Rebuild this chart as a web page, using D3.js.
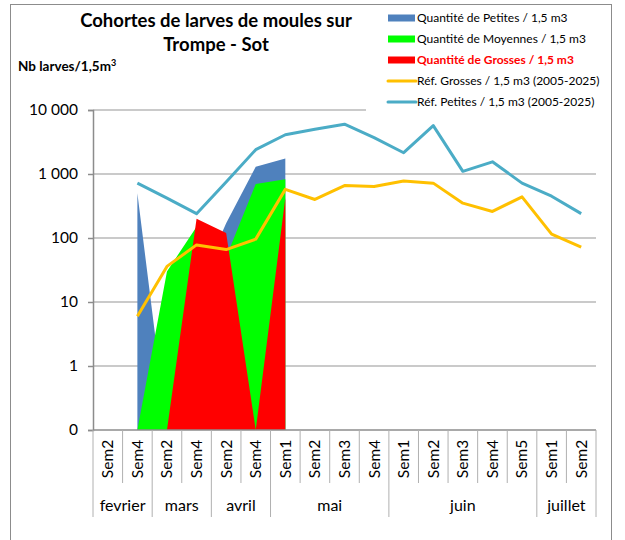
<!DOCTYPE html>
<html>
<head>
<meta charset="utf-8">
<script src="https://cdn.jsdelivr.net/npm/d3@7"></script>
<style>
body{margin:0;background:#fff;}
text{font-family:Lato,"Open Sans",sans-serif;}
</style>
</head>
<body>
<script>
var W=625,H=540;
var semLabels=["Sem2","Sem4","Sem2","Sem4","Sem2","Sem4","Sem1","Sem2","Sem3","Sem4","Sem1","Sem2","Sem3","Sem4","Sem5","Sem1","Sem2"];
var months=["fevrier","mars","avril","mai","juin","juillet"];
var monthSpans=[2,2,2,4,5,2];
var yTicks=[0.1,1,10,100,1000,10000];
var yTickLabels=["0","1","10","100","1 000","10 000"];

// quantites observees (0 = rien, null = pas de prelevement)
var petites =[null,500,0,15,170,1300,1750,null,null,null,null,null,null,null,null,null,null];
var moyennes=[null,0,30,150,50,700,830,null,null,null,null,null,null,null,null,null,null];
var grosses =[null,0,0,200,120,0,420,null,null,null,null,null,null,null,null,null,null];
// references 2005-2025
var refGrosses=[null,6,36,78,66,96,575,400,660,640,780,720,350,260,440,115,72];
var refPetites=[null,720,420,240,750,2400,4100,5000,6000,3700,2150,5700,1100,1550,720,450,240];

var svg=d3.select('body').append('svg').attr('width',W).attr('height',H);

var x=d3.scaleBand().domain(d3.range(semLabels.length)).range([93,596]).padding(0);
var bw=x.bandwidth();
var cx=function(i){return x(i)+bw/2;};
var y=d3.scaleLog().domain([0.1,10000]).range([430,110]);
var yv=function(v){return y(v<=0?0.1:v);};

// cadre
svg.append('rect').attr('x',10.5).attr('y',4.5).attr('width',601).attr('height',600)
  .attr('fill','none').attr('stroke','#8c8c8c').attr('stroke-width',1);

// grille
svg.selectAll('line.grid').data(yTicks.slice(1)).enter().append('line')
  .attr('class','grid')
  .attr('x1',93).attr('x2',596)
  .attr('y1',function(d){return y(d);}).attr('y2',function(d){return y(d);})
  .attr('stroke','#b9b9b9').attr('stroke-width',1.5);

// fond blanc de la legende
svg.append('rect').attr('x',366).attr('y',6).attr('width',240).attr('height',106).attr('fill','#fff');

// aires
var area=d3.area()
  .defined(function(d){return d!=null;})
  .x(function(d,i){return cx(i);})
  .y0(y(0.1))
  .y1(function(d){return yv(d);});
[[petites,'#4f81bd'],[moyennes,'#00ff00'],[grosses,'#ff0000']].forEach(function(s){
  svg.append('path').datum(s[0]).attr('d',area).attr('fill',s[1]);
});

// courbes de reference
var line=d3.line()
  .defined(function(d){return d!=null;})
  .x(function(d,i){return cx(i);})
  .y(function(d){return yv(d);});
[[refGrosses,'#ffc000'],[refPetites,'#4bacc6']].forEach(function(s){
  svg.append('path').datum(s[0]).attr('d',line).attr('fill','none')
    .attr('stroke',s[1]).attr('stroke-width',3).attr('stroke-linejoin','round');
});

// axe Y
var yAxis=d3.axisLeft(y).tickValues(yTicks)
  .tickFormat(function(d,i){return yTickLabels[i];})
  .tickSize(5).tickPadding(10);
var gy=svg.append('g').attr('transform','translate(93,0)').call(yAxis);
gy.select('.domain').attr('stroke','#8c8c8c').attr('stroke-width',1.5);
gy.selectAll('.tick line').attr('stroke','#8c8c8c').attr('stroke-width',1.5);
gy.selectAll('.tick text').style('font-size','15.5px').style('font-family','Lato').attr('fill','#000');

// axe X : semaines
var xAxis=d3.axisBottom(x).tickFormat(function(d){return semLabels[d];}).tickSize(0);
var gx=svg.append('g').attr('transform','translate(0,430)').call(xAxis);
gx.select('.domain').remove();
gx.selectAll('.tick text')
  .attr('transform','translate(0,29) rotate(-90)')
  .attr('x',0).attr('y',0).attr('dy','0.35em')
  .style('text-anchor','middle').style('font-size','15.5px').style('font-family','Lato').attr('fill','#000');

svg.append('line').attr('x1',93).attr('x2',596).attr('y1',430).attr('y2',430)
  .attr('stroke','#8c8c8c').attr('stroke-width',1.5);

var bounds=[0],acc=0;
monthSpans.forEach(function(n){acc+=n;bounds.push(acc);});
svg.selectAll('line.semtick').data(d3.range(semLabels.length+1).filter(function(i){return bounds.indexOf(i)<0;}))
  .enter().append('line').attr('class','semtick')
  .attr('x1',function(i){return 93+i*bw;}).attr('x2',function(i){return 93+i*bw;})
  .attr('y1',430).attr('y2',483)
  .attr('stroke','#b0b0b0').attr('stroke-width',1);
svg.selectAll('line.monthtick').data(bounds).enter().append('line').attr('class','monthtick')
  .attr('x1',function(i){return 93+i*bw;}).attr('x2',function(i){return 93+i*bw;})
  .attr('y1',430).attr('y2',517)
  .attr('stroke','#b0b0b0').attr('stroke-width',1);
svg.selectAll('text.month').data(months).enter().append('text').attr('class','month')
  .attr('x',function(d,i){return 93+(bounds[i]+bounds[i+1])/2*bw;})
  .attr('y',511).attr('text-anchor','middle')
  .style('font-size','16px').attr('fill','#000')
  .text(function(d){return d;});

// titres
svg.append('text').attr('x',216).attr('y',27).attr('text-anchor','middle')
  .style('font-size','18.5px').style('font-weight','bold').text('Cohortes de larves de moules sur');
svg.append('text').attr('x',216).attr('y',51).attr('text-anchor','middle')
  .style('font-size','18.5px').style('font-weight','bold').text('Trompe - Sot');
var yt=svg.append('text').attr('x',18).attr('y',71).style('font-size','13.5px').style('font-weight','bold');
yt.append('tspan').text('Nb larves/1,5m');
yt.append('tspan').attr('dy',-5).style('font-size','9px').text('3');

// legende
var legend=[
  {label:'Quantité de Petites / 1,5 m3',color:'#4f81bd',type:'rect'},
  {label:'Quantité de Moyennes / 1,5 m3',color:'#00ff00',type:'rect'},
  {label:'Quantité de Grosses / 1,5 m3',color:'#ff0000',type:'rect',bold:true},
  {label:'Réf. Grosses / 1,5 m3 (2005-2025)',color:'#ffc000',type:'line'},
  {label:'Réf. Petites / 1,5 m3 (2005-2025)',color:'#4bacc6',type:'line'}
];
var lg=svg.selectAll('g.leg').data(legend).enter().append('g').attr('class','leg')
  .attr('transform',function(d,i){return 'translate(388,'+(18+i*21)+')';});
lg.filter(function(d){return d.type=='rect';}).append('rect')
  .attr('x',0).attr('y',-3.5).attr('width',27).attr('height',7).attr('fill',function(d){return d.color;});
lg.filter(function(d){return d.type=='line';}).append('line')
  .attr('x1',0).attr('x2',28).attr('y1',0).attr('y2',0)
  .attr('stroke',function(d){return d.color;}).attr('stroke-width',3).attr('stroke-linecap','round');
lg.append('text').attr('x',29).attr('y',0).attr('dy','0.35em')
  .style('font-size','12px')
  .style('font-weight',function(d){return d.bold?'bold':'normal';})
  .attr('fill',function(d){return d.bold?'#ff0000':'#000';})
  .text(function(d){return d.label;});
</script>
</body>
</html>
